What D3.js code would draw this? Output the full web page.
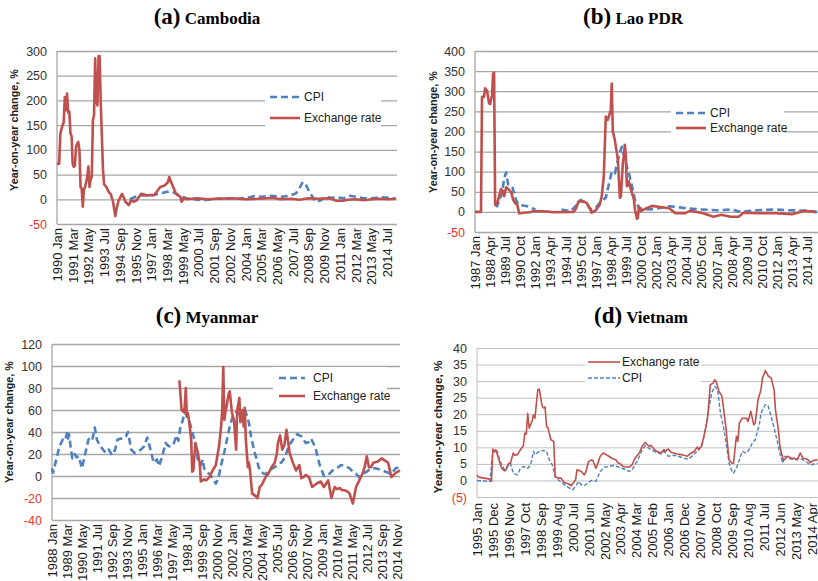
<!DOCTYPE html>
<html>
<head>
<meta charset="utf-8">
<script src="https://cdn.jsdelivr.net/npm/d3@7"></script>
<style>
  body { margin: 0; background: #fff; }
  svg { display: block; font-family: 'Liberation Sans', Arial, sans-serif; }
</style>
</head>
<body>
<div id="chart"></div>
<script>
// year-on-year change, %
const cambodiaFx = [['1990-01',72],['1990-03',72],['1990-04',133],['1990-06',150],['1990-07',155],['1990-08',207],['1990-09',180],['1990-10',214],['1990-11',175],['1990-12',178],['1991-01',133],['1991-02',128],['1991-03',72],['1991-04',66],['1991-05',68],['1991-06',106],['1991-07',112],['1991-08',116],['1991-09',100],['1991-10',25],['1991-11',22],['1991-12',-15],['1992-01',20],['1992-02',25],['1992-04',45],['1992-05',66],['1992-06',25],['1992-07',40],['1992-08',45],['1992-09',160],['1992-10',170],['1992-11',285],['1992-12',200],['1993-01',190],['1993-02',290],['1993-03',290],['1993-04',195],['1993-05',130],['1993-06',60],['1993-07',30],['1993-09',25],['1993-11',15],['1994-01',10],['1994-03',-5],['1994-05',-34],['1994-06',-20],['1994-08',-2],['1994-11',11],['1995-02',-5],['1995-05',-12],['1995-07',-2],['1995-09',-5],['1995-12',-2],['1996-04',11],['1996-09',8],['1997-04',9],['1997-09',25],['1998-01',28],['1998-04',35],['1998-05',45],['1998-08',28],['1998-11',11],['1999-03',5],['1999-04',-5],['1999-06',3],['1999-08',0],['2000-01',1],['2000-06',2],['2001-03',0],['2002-01',1],['2003-01',2],['2004-01',0],['2005-01',1],['2006-01',3],['2006-08',0],['2007-06',1],['2008-01',-1],['2008-09',2],['2009-06',1],['2010-04',2],['2010-10',-3],['2011-04',-3],['2011-08',-1],['2012-03',0],['2012-10',-2],['2013-06',0],['2014-01',1],['2014-08',0],['2015-03',1]]
const cambodiaCpi = [['1995-06',0],['1995-11',5],['1996-04',8],['1997-02',8],['1997-09',12],['1998-05',16],['1998-10',13],['1999-03',7],['1999-08',2],['2000-11',-2],['2001-09',1],['2002-07',2],['2003-05',1],['2004-03',3],['2004-08',6],['2005-03',5],['2005-11',7],['2006-09',5],['2007-04',7],['2007-10',12],['2008-01',22],['2008-04',35],['2008-07',28],['2008-10',15],['2009-02',0],['2009-04',-5],['2009-08',-2],['2009-12',5],['2010-06',3],['2010-11',4],['2011-05',2],['2011-10',7],['2012-04',5],['2012-10',2],['2013-06',2],['2014-01',4],['2014-08',3],['2015-03',1]]

const laoFx = [['1987-01',0],['1987-07',0],['1987-08',286],['1987-10',286],['1987-11',307],['1988-01',301],['1988-03',270],['1988-04',268],['1988-06',290],['1988-07',344],['1988-08',346],['1988-09',18],['1988-11',20],['1989-01',39],['1989-03',57],['1989-05',51],['1989-06',39],['1989-08',61],['1989-10',57],['1990-01',49],['1990-03',30],['1990-05',22],['1990-07',18],['1990-09',-4],['1991-01',-2],['1991-08',-1],['1991-11',2],['1993-01',1],['1993-07',-1],['1995-03',0],['1995-05',6],['1995-08',26],['1996-01',26],['1996-04',22],['1996-07',10],['1996-09',-2],['1997-01',4],['1997-05',18],['1997-07',39],['1997-09',88],['1997-11',237],['1998-01',229],['1998-02',237],['1998-04',253],['1998-05',319],['1998-06',200],['1998-08',179],['1998-11',130],['1999-01',35],['1999-02',39],['1999-04',121],['1999-05',138],['1999-06',167],['1999-07',138],['1999-08',64],['1999-10',76],['1999-11',64],['2000-01',47],['2000-03',31],['2000-04',6],['2000-06',-17],['2000-07',-15],['2000-08',13],['2000-10',2],['2001-04',10],['2001-09',15],['2002-05',12],['2003-02',9],['2003-08',-3],['2004-06',-3],['2004-11',3],['2005-11',-3],['2006-10',-12],['2007-06',-7],['2008-03',-12],['2008-11',-12],['2009-04',-2],['2010-07',-3],['2011-12',-3],['2013-04',-6],['2014-05',3],['2015-04',-1]]
const laoCpi = [['1988-09',18],['1988-11',14],['1989-04',47],['1989-06',84],['1989-08',98],['1989-10',68],['1990-02',64],['1990-05',35],['1990-08',18],['1991-05',14],['1992-01',6],['1993-01',null],['1994-03',6],['1994-12',2],['1995-05',14],['1995-10',30],['1996-03',22],['1996-08',6],['1997-01',10],['1997-06',26],['1997-11',35],['1998-02',68],['1998-05',100],['1998-08',96],['1998-12',138],['1999-03',162],['1999-06',130],['1999-10',96],['2000-01',64],['2000-04',30],['2000-08',10],['2001-01',6],['2001-11',7],['2003-03',14],['2004-04',10],['2005-09',6],['2007-02',4],['2008-04',6],['2009-01',0],['2010-05',4],['2011-10',6],['2013-02',4],['2014-07',3],['2015-05',0]]

const myanmarCpi = [['1988-01',7],['1988-02',3],['1988-05',15],['1988-08',27],['1988-11',33],['1989-01',32],['1989-03',39],['1989-04',34],['1989-05',38],['1989-07',22],['1989-08',16],['1989-10',20],['1989-12',17],['1990-02',18],['1990-05',7],['1990-08',20],['1990-11',33],['1991-01',36],['1991-03',34],['1991-05',44],['1991-07',33],['1991-10',27],['1991-12',25],['1992-03',21],['1992-06',24],['1992-09',19],['1992-12',24],['1993-02',33],['1993-05',34],['1993-07',34],['1993-10',36],['1993-12',40],['1994-03',24],['1994-06',21],['1994-09',22],['1994-12',24],['1995-03',27],['1995-06',35],['1995-09',24],['1995-12',12],['1996-03',15],['1996-05',9],['1996-08',18],['1996-11',30],['1997-02',27],['1997-05',27],['1997-07',30],['1997-09',37],['1997-11',32],['1998-01',45],['1998-03',50],['1998-05',58],['1998-07',55],['1998-09',51],['1998-12',40],['1999-02',33],['1999-04',22],['1999-06',12],['1999-08',10],['1999-10',15],['1999-11',7],['2000-02',3],['2000-04',2],['2000-07',-2],['2000-10',-7],['2000-12',-3],['2001-01',1],['2001-03',10],['2001-06',22],['2001-09',36],['2001-11',45],['2002-02',55],['2002-05',58],['2002-08',56],['2002-11',54],['2003-02',58],['2003-05',48],['2003-07',36],['2003-10',22],['2003-12',16],['2004-02',8],['2004-04',4],['2004-07',2],['2004-09',2],['2004-12',5],['2005-03',7],['2005-08',10],['2005-12',13],['2006-03',18],['2006-05',24],['2006-08',30],['2006-10',33],['2007-02',38],['2007-04',37],['2007-06',36],['2007-08',33],['2007-10',30],['2008-01',31],['2008-03',34],['2008-05',30],['2008-07',26],['2008-09',18],['2008-11',10],['2009-01',5],['2009-03',0],['2009-05',1],['2009-08',2],['2009-11',5],['2010-03',7],['2010-07',10],['2010-11',9],['2011-03',7],['2011-06',4],['2011-09',2],['2011-12',-1],['2012-03',2],['2012-07',4],['2012-11',7],['2013-03',7],['2013-07',6],['2013-12',4],['2014-06',2],['2014-10',7],['2015-02',8]]
const myanmarFx = [['1997-12',87],['1998-02',60],['1998-04',58],['1998-05',63],['1998-06',80],['1998-07',54],['1998-08',57],['1998-09',50],['1998-11',33],['1998-12',4],['1999-01',5],['1999-03',30],['1999-05',22],['1999-07',12],['1999-08',-5],['1999-11',-3],['2000-01',-4],['2000-04',-1],['2000-07',5],['2000-10',10],['2001-01',27],['2001-03',45],['2001-04',60],['2001-05',99],['2001-06',51],['2001-07',58],['2001-08',63],['2001-10',75],['2001-11',77],['2002-01',58],['2002-02',54],['2002-03',51],['2002-05',24],['2002-06',60],['2002-08',71],['2002-09',49],['2002-11',60],['2002-12',45],['2003-01',62],['2003-02',33],['2003-04',8],['2003-05',12],['2003-06',5],['2003-08',-16],['2003-11',-18],['2004-01',-20],['2004-03',-10],['2004-05',-8],['2004-07',-4],['2004-09',0],['2004-11',2],['2005-02',8],['2005-05',12],['2005-07',20],['2005-08',30],['2005-10',37],['2005-12',24],['2006-02',28],['2006-04',42],['2006-07',21],['2006-10',12],['2007-01',5],['2007-04',10],['2007-06',-2],['2007-08',-1],['2007-10',1],['2008-01',-1],['2008-04',-10],['2008-08',-7],['2008-12',-5],['2009-03',-10],['2009-07',-4],['2009-10',-20],['2010-01',-10],['2010-03',-12],['2010-06',-11],['2010-08',-13],['2010-10',-13],['2011-01',-14],['2011-03',-16],['2011-06',-25],['2011-09',-10],['2011-12',-4],['2012-03',2],['2012-05',8],['2012-07',18],['2012-09',8],['2012-11',8],['2013-01',12],['2013-05',13],['2013-09',16],['2013-12',14],['2014-03',12],['2014-06',-1],['2014-09',2],['2014-12',4],['2015-02',5]]

const vietnamFx = [['1995-01',1.7],['1995-02',1.0],['1995-10',0.4],['1995-11',-0.3],['1995-12',9.5],['1996-01',8.6],['1996-02',9.3],['1996-04',6.5],['1996-06',3.7],['1996-08',2.9],['1996-09',3.2],['1996-11',5.2],['1996-12',5.2],['1997-02',8.3],['1997-03',7.6],['1997-05',7.8],['1997-07',9.3],['1997-09',10.5],['1997-10',14.3],['1997-11',14],['1997-12',20.3],['1998-01',15.8],['1998-03',17.8],['1998-04',19.8],['1998-05',18.8],['1998-07',27.4],['1998-08',27.6],['1998-10',22.4],['1998-11',21.9],['1998-12',22.2],['1999-01',16.3],['1999-02',15.8],['1999-04',12.3],['1999-06',11.8],['1999-07',1.2],['1999-09',0.7],['1999-11',0.7],['2000-01',-0.6],['2000-04',-1],['2000-06',-1.6],['2000-09',0.2],['2000-10',3.2],['2001-01',2.7],['2001-03',1.7],['2001-04',2.4],['2001-06',5.7],['2001-08',6.2],['2001-09',6],['2001-11',3.7],['2001-12',4.7],['2002-02',7.3],['2002-04',8.3],['2002-06',7.8],['2002-08',7.3],['2002-10',6.7],['2003-01',6.2],['2003-02',5.4],['2003-04',5],['2003-06',4.2],['2003-10',4],['2003-12',4.7],['2004-02',6.7],['2004-05',8.3],['2004-07',10.3],['2004-09',11.5],['2004-10',11],['2004-12',10.3],['2005-01',10.6],['2005-03',9.5],['2005-05',8.8],['2005-08',8.3],['2005-10',9.3],['2005-11',8.8],['2006-01',9.5],['2006-03',8.5],['2006-05',8.3],['2006-07',8],['2006-10',7.8],['2006-12',7.6],['2007-02',7.3],['2007-04',8],['2007-07',8.8],['2007-09',10.1],['2007-10',9.3],['2007-12',10.3],['2008-02',14.3],['2008-04',18.3],['2008-05',23.4],['2008-06',28.9],['2008-08',29.4],['2008-09',30.4],['2008-10',29.9],['2008-12',26.9],['2009-02',25.4],['2009-03',22.4],['2009-05',15.3],['2009-06',10.3],['2009-07',6.2],['2009-09',5.2],['2009-10',5.2],['2009-12',13.3],['2010-01',11.8],['2010-02',17.3],['2010-04',18.8],['2010-07',18.8],['2010-08',17.8],['2010-10',20.8],['2010-12',16.8],['2011-01',17.3],['2011-03',24.4],['2011-05',27.4],['2011-06',30.9],['2011-08',33.2],['2011-10',31.6],['2011-12',30.9],['2012-02',27.4],['2012-03',21.3],['2012-05',15.3],['2012-06',10.3],['2012-08',6.7],['2012-09',6.2],['2012-11',7.3],['2013-02',6.7],['2013-04',6.7],['2013-06',6.2],['2013-08',8.3],['2013-10',6.7],['2014-01',6.4],['2014-03',5.4],['2014-05',6],['2014-08',6.2]]
const vietnamCpi = [['1995-01',0],['1995-10',-0.3],['1995-12',9.3],['1996-03',8.8],['1996-05',5.7],['1996-08',3.2],['1996-10',4.4],['1996-12',5.2],['1997-02',2.2],['1997-05',1.7],['1997-07',3.7],['1997-09',4.2],['1997-12',3.7],['1998-02',4.7],['1998-04',8.8],['1998-05',7.8],['1998-08',8.8],['1998-11',9.1],['1999-01',8.8],['1999-03',6.2],['1999-05',4.7],['1999-07',1.2],['1999-09',0.2],['1999-12',-0.8],['2000-03',-1.8],['2000-07',-2.8],['2000-09',-1.8],['2000-11',-0.3],['2001-01',-1.3],['2001-03',-1.6],['2001-06',-0.6],['2001-08',0],['2001-11',-0.3],['2002-02',2.7],['2002-05',4],['2002-08',4.2],['2002-11',4.5],['2003-04',3.9],['2003-08',3.2],['2003-10',2.7],['2003-12',3.2],['2004-04',6.2],['2004-07',9.3],['2004-09',10.5],['2005-01',9.3],['2005-04',8.6],['2005-08',8],['2005-10',8.8],['2006-01',7.3],['2006-05',7.6],['2006-08',7.3],['2006-12',6.7],['2007-03',6.4],['2007-07',8],['2007-10',9.3],['2008-01',11.8],['2008-03',16.3],['2008-05',21.9],['2008-07',26.4],['2008-09',28.4],['2008-11',27.4],['2009-01',20.3],['2009-03',16.3],['2009-05',11.3],['2009-07',5.2],['2009-09',2.7],['2009-10',2.2],['2009-12',3.7],['2010-02',6.2],['2010-04',8.8],['2010-07',8.3],['2010-09',9.5],['2010-11',11.3],['2011-01',12.3],['2011-04',17.3],['2011-05',20.3],['2011-08',22.9],['2011-10',22.4],['2011-12',19.3],['2012-02',15.8],['2012-04',12.3],['2012-06',8.3],['2012-08',5.2],['2012-09',7.3],['2012-12',6.7],['2013-04',6.2],['2013-08',6.7],['2013-12',5.7],['2014-03',4.7],['2014-08',5.2]]

// y ticks per panel
const cambodiaTicks = [-50, 0, 50, 100, 150, 200, 250, 300]
const laoTicks = [-50, 0, 50, 100, 150, 200, 250, 300, 350, 400]
const myanmarTicks = [-40, -20, 0, 20, 40, 60, 80, 100, 120]
const vietnamTicks = [-5, 0, 5, 10, 15, 20, 25, 30, 35, 40]

const RED = '#c0504d'
const BLUE = '#4f81bd'
const parseMonth = d3.timeParse('%Y-%m')

const svg = d3.select('#chart').append('svg')
  .attr('width', 818)
  .attr('height', 581)

function drawPanel(p) {
  const g = svg.append('g')
  const start = parseMonth(p.start)
  const x = d3.scaleTime().domain([start, parseMonth(p.end)]).range([p.left, p.right])
  const y = d3.scaleLinear().domain(p.yDomain).range([p.bottom, p.top])

  // title
  const title = g.append('text')
    .attr('x', p.titleX).attr('y', p.titleY)
    .attr('text-anchor', 'middle')
    .style('font-family', "'Liberation Serif', 'Times New Roman', serif")
    .style('font-weight', 'bold')
  title.append('tspan').style('font-size', '23px').text(p.letter)
  title.append('tspan').style('font-size', '17px').text(' ' + p.name)

  // grid + y axis
  const yAxis = g.append('g')
    .attr('transform', `translate(${p.left},0)`)
    .call(d3.axisLeft(y).tickValues(p.yTicks).tickSize(-(p.right - p.left)).tickPadding(p.yPad)
      .tickFormat(d => d < 0 && p.parens ? `(${-d})` : d))
  yAxis.select('.domain').remove()
  yAxis.selectAll('line').attr('stroke', p.gridColor).attr('stroke-width', p.gridWidth)
  yAxis.selectAll('text')
    .style('font-size', '12.5px')
    .attr('fill', d => d < 0 ? '#e8372b' : '#333')
  g.append('line')
    .attr('x1', p.left).attr('x2', p.left)
    .attr('y1', p.top).attr('y2', p.bottom)
    .attr('stroke', p.gridColor).attr('stroke-width', p.gridWidth)

  // y title
  g.append('text')
    .attr('transform', `translate(${p.yLabelX},${p.yLabelY}) rotate(-90)`)
    .attr('text-anchor', 'middle')
    .style('font-size', p.yLabelSize)
    .style('font-weight', 'bold')
    .attr('fill', '#222')
    .text('Year-on-year change, %')

  // x axis labels
  const xTicks = d3.range(p.nTicks).map(i => d3.timeMonth.offset(start, i * p.step))
  const xAxis = g.append('g')
    .attr('transform', `translate(0,${p.bottom})`)
    .call(d3.axisBottom(x).tickValues(xTicks).tickSize(0).tickFormat(d3.timeFormat('%Y %b')))
  xAxis.select('.domain').remove()
  xAxis.selectAll('text')
    .attr('transform', 'rotate(-90)')
    .attr('x', -p.xPad).attr('y', 0).attr('dy', '0.35em')
    .style('text-anchor', 'end')
    .style('font-size', '13px')
    .attr('fill', '#1a1a1a')

  const line = d3.line()
    .defined(d => d[1] !== null)
    .x(d => x(parseMonth(d[0])))
    .y(d => y(d[1]))

  const series = {
    cpi: { data: p.cpi, color: BLUE, width: p.cpiWidth, dash: p.dash },
    fx: { data: p.fx, color: RED, width: p.fxWidth, dash: null }
  }
  p.order.forEach(k => {
    const s = series[k]
    g.append('path')
      .datum(s.data)
      .attr('d', line)
      .attr('fill', 'none')
      .attr('stroke', s.color)
      .attr('stroke-width', s.width)
      .attr('stroke-dasharray', s.dash)
      .attr('stroke-linejoin', 'round')
  })

  // legend
  const lg = p.legend
  g.append('rect')
    .attr('x', lg.x).attr('y', lg.y).attr('width', lg.w).attr('height', lg.h)
    .attr('fill', '#fff')
  lg.items.forEach((k, i) => {
    const s = series[k]
    const yy = lg.y0 + i * lg.dy
    g.append('line')
      .attr('x1', lg.lx).attr('x2', lg.lx + lg.len)
      .attr('y1', yy).attr('y2', yy)
      .attr('stroke', s.color).attr('stroke-width', s.width)
      .attr('stroke-dasharray', s.dash)
    g.append('text')
      .attr('x', lg.lx + lg.len + lg.gap).attr('y', yy).attr('dy', '0.35em')
      .style('font-size', '12px')
      .attr('fill', '#222')
      .text(k === 'cpi' ? 'CPI' : 'Exchange rate')
  })
}

const bigLine = { gridColor: '#a6a6a6', gridWidth: 1.3, cpiWidth: 2.6, fxWidth: 2.6, dash: '7,4', yPad: 10, xPad: 4, yLabelSize: '10.8px' }

drawPanel(Object.assign({}, bigLine, {
  letter: '(a)', name: 'Cambodia', titleX: 207, titleY: 24,
  left: 57, right: 397, top: 51, bottom: 224, yDomain: [-50, 300], yTicks: cambodiaTicks,
  start: '1990-01', end: '2015-04', step: 14, nTicks: 22,
  yLabelX: 18, yLabelY: 130,
  cpi: cambodiaCpi, fx: cambodiaFx, order: ['cpi', 'fx'],
  legend: { x: 265, y: 87, w: 116, h: 41, lx: 270, len: 30, gap: 4, y0: 97, dy: 21, items: ['cpi', 'fx'] }
}))

drawPanel(Object.assign({}, bigLine, {
  letter: '(b)', name: 'Lao PDR', titleX: 633, titleY: 24,
  left: 475, right: 819, top: 51, bottom: 232, yDomain: [-50, 400], yTicks: laoTicks,
  start: '1987-01', end: '2015-07', step: 15, nTicks: 23,
  yLabelX: 437, yLabelY: 132,
  cpi: laoCpi, fx: laoFx, order: ['cpi', 'fx'],
  legend: { x: 671, y: 100, w: 113, h: 37, lx: 676, len: 30, gap: 4, y0: 113, dy: 15, items: ['cpi', 'fx'] }
}))

drawPanel(Object.assign({}, bigLine, {
  letter: '(c)', name: 'Myanmar', titleX: 207, titleY: 323,
  left: 52, right: 400, top: 344, bottom: 520, yDomain: [-40, 120], yTicks: myanmarTicks,
  start: '1988-01', end: '2015-02', step: 14, nTicks: 24,
  yLabelX: 13, yLabelY: 422,
  cpi: myanmarCpi, fx: myanmarFx, order: ['cpi', 'fx'],
  legend: { x: 273, y: 367, w: 114, h: 38, lx: 279, len: 26, gap: 8, y0: 378, dy: 18, items: ['cpi', 'fx'] }
}))

drawPanel({
  letter: '(d)', name: 'Vietnam', titleX: 641, titleY: 323,
  gridColor: '#bfbfbf', gridWidth: 1, cpiWidth: 1.4, fxWidth: 1.6, dash: '4,2', yPad: 10, xPad: 6,
  yLabelSize: '11.8px', parens: true,
  left: 477, right: 819, top: 348, bottom: 497, yDomain: [-5, 40], yTicks: vietnamTicks,
  start: '1995-01', end: '2014-09', step: 11, nTicks: 22,
  yLabelX: 442, yLabelY: 427,
  cpi: vietnamCpi, fx: vietnamFx, order: ['cpi', 'fx'],
  legend: { x: 585, y: 353, w: 116, h: 32, lx: 588, len: 32, gap: 2, y0: 362, dy: 16, items: ['fx', 'cpi'] }
})
</script>
</body>
</html>
